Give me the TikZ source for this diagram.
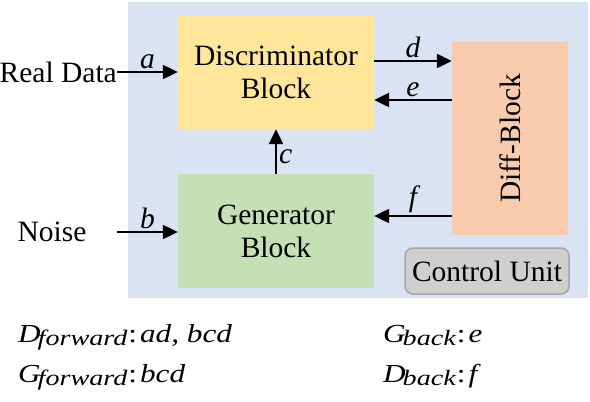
\documentclass[tikz,border=0pt]{standalone}
\usepackage{fontspec}
\setmainfont{Liberation Serif}
\newfontfamily\eqfont{Liberation Serif}[FakeStretch=1.2]
\newfontfamily\subfont{Liberation Serif}[FakeStretch=1.28]
\usetikzlibrary{arrows.meta}
\definecolor{bgblue}{HTML}{DAE3F3}
\definecolor{discyel}{HTML}{FFE699}
\definecolor{gengreen}{HTML}{C5E0B4}
\definecolor{difforange}{HTML}{F8CBAD}
\definecolor{ctrlgray}{HTML}{D0CECE}
\definecolor{ctrlborder}{HTML}{A5A5A5}
\tikzset{
  blockbox/.style={inner sep=0pt, align=center, font=\fontsize{29.5}{33}\selectfont},
  plaintext/.style={inner sep=0pt, font=\fontsize{29.5}{33}\selectfont},
  arr/.style={line width=2.3pt, -{Triangle[length=15pt,width=14pt]}},
  lbl/.style={inner sep=2pt, font=\fontsize{29.5}{33}\selectfont\itshape},
  eqtext/.style={inner sep=0pt, anchor=base west, font=\eqfont\fontsize{26}{30}\selectfont\itshape}
}
\newcommand{\subsc}[1]{\kern-3pt\raisebox{-0.3ex}{\subfont\fontsize{22}{26}\selectfont\itshape #1}}
\newcommand{\eqcolon}{\kern1pt{\upshape:}\kern3pt}
\begin{document}
\begin{tikzpicture}[x=1pt,y=-1pt]
\useasboundingbox (0,0) rectangle (590,402);
\fill[bgblue] (128,2) rectangle (588,298);
\node[blockbox, fill=discyel, minimum width=196pt, minimum height=113pt] (disc) at (276,72.5) {Discriminator\\Block};
\node[blockbox, fill=gengreen, minimum width=196pt, minimum height=114pt] (gen) at (276,231) {Generator\\Block};
\node[blockbox, fill=difforange, minimum width=116pt, minimum height=193pt] (diff) at (510,138.5) {};
\node[plaintext, rotate=90] (difftext) at (510,138.5) {Diff-Block};
\node[blockbox, fill=ctrlgray, draw=ctrlborder, line width=1.5pt, rounded corners=8pt, minimum width=164pt, minimum height=46pt] (ctrl) at (487,271) {Control Unit};
\node[plaintext, anchor=east] (real) at (117,72) {Real Data};
\node[plaintext] (noise) at (52,232) {Noise};
\coordinate (nb) at (117,232);
\coordinate (yd) at (0,61);
\coordinate (ye) at (0,100);
\coordinate (yf) at (0,216);
\draw[arr] (real.east) -- (real.east -| disc.west) node[lbl, midway, above] {a};
\draw[arr] (nb) -- (nb -| gen.west) node[lbl, midway, above] {b};
\draw[arr] (gen.north) -- (disc.south) node[lbl, midway, right, yshift=-5pt] {c};
\draw[arr] (yd -| disc.east) -- (yd -| diff.west) node[lbl, midway, above] {d};
\draw[arr] (ye -| diff.west) -- (ye -| disc.east) node[lbl, midway, above] {e};
\draw[arr] (yf -| diff.west) -- (yf -| gen.east) node[lbl, midway, above] {f};
\node[eqtext] (eq1) at (18,342) {D\subsc{forward}\eqcolon ad, bcd};
\node[eqtext] (eq2) at (18,382) {G\subsc{forward}\eqcolon bcd};
\node[eqtext] (eq3) at (383,342) {G\subsc{back}\eqcolon e};
\node[eqtext] (eq4) at (383,382) {D\subsc{back}\eqcolon f};
\end{tikzpicture}
\end{document}
